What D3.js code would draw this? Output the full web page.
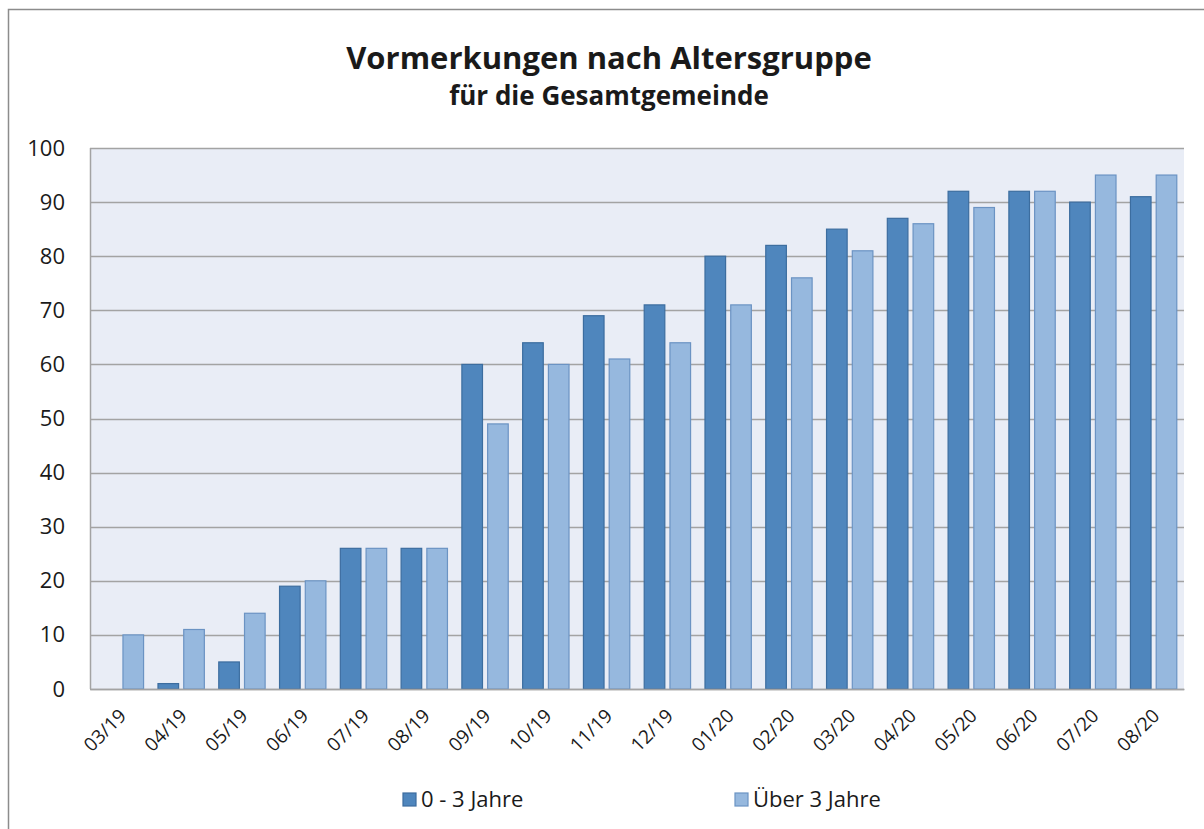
<!DOCTYPE html>
<html>
<head>
<meta charset="utf-8">
<script src="https://cdn.jsdelivr.net/npm/d3@7"></script>
<style>
  body { margin: 0; background: #fff; }
  svg text { font-family: "Open Sans", Lato, sans-serif; fill: #1a1a1a; }
</style>
</head>
<body>
<div id="chart"></div>
<script>
// data
const months = ['03/19','04/19','05/19','06/19','07/19','08/19','09/19','10/19','11/19','12/19',
                '01/20','02/20','03/20','04/20','05/20','06/20','07/20','08/20'];
const young = [0, 1, 5, 19, 26, 26, 60, 64, 69, 71, 80, 82, 85, 87, 92, 92, 90, 91];
const older = [10, 11, 14, 20, 26, 26, 49, 60, 61, 64, 71, 76, 81, 86, 89, 92, 95, 95];
const seriesNames = ['0 - 3 Jahre', 'Über 3 Jahre'];
const yTicks = [0, 10, 20, 30, 40, 50, 60, 70, 80, 90, 100];

const width = 1204, height = 829;
const plot = {left: 90, right: 1184, top: 148, bottom: 689};
const colors = ['#4f86bd', '#96b8de'];
const strokes = ['#3c6d9f', '#6b93c3'];
const font = '"Open Sans", Lato, sans-serif';

const svg = d3.select('#chart')
  .append('svg')
    .attr('width', width)
    .attr('height', height);

// outer chart frame
svg.append('rect')
    .attr('x', 8.5).attr('y', 9.5)
    .attr('width', width + 10).attr('height', height + 10)
    .attr('fill', 'none')
    .attr('stroke', '#8c8c8c')
    .attr('stroke-width', 1.5);

// titles
svg.append('text')
    .attr('x', 609).attr('y', 69)
    .attr('text-anchor', 'middle')
    .attr('font-size', 31).attr('font-weight', 'bold')
    .text('Vormerkungen nach Altersgruppe');
svg.append('text')
    .attr('x', 609).attr('y', 105)
    .attr('text-anchor', 'middle')
    .attr('font-size', 26).attr('font-weight', 'bold')
    .text('für die Gesamtgemeinde');

const x = d3.scaleBand()
    .domain(months)
    .range([plot.left, plot.right]);

const inner = d3.scaleBand()
    .domain([0, 1])
    .range([0, x.bandwidth()])
    .paddingInner(0.2)
    .paddingOuter(0.28);

const y = d3.scaleLinear()
    .domain([0, 100])
    .range([plot.bottom, plot.top]);

// plot background
svg.append('rect')
    .attr('x', plot.left).attr('y', plot.top)
    .attr('width', plot.right - plot.left)
    .attr('height', plot.bottom - plot.top)
    .attr('fill', '#e9edf6');

// grid lines
svg.append('g')
  .selectAll('line')
  .data(yTicks)
  .join('line')
    .attr('x1', plot.left).attr('x2', plot.right)
    .attr('y1', d => Math.round(y(d)) + 0.5)
    .attr('y2', d => Math.round(y(d)) + 0.5)
    .attr('stroke', '#a3a3a3')
    .attr('stroke-width', 1.5);

// left edge of plot
svg.append('line')
    .attr('x1', plot.left + 0.5).attr('x2', plot.left + 0.5)
    .attr('y1', plot.top).attr('y2', plot.bottom)
    .attr('stroke', '#a3a3a3')
    .attr('stroke-width', 1.5);

// bars
const series = [young, older];
series.forEach((vals, s) => {
  svg.append('g')
    .selectAll('rect')
    .data(vals)
    .join('rect')
      .attr('x', (d, i) => x(months[i]) + inner(s))
      .attr('y', d => y(d))
      .attr('width', inner.bandwidth())
      .attr('height', d => y(0) - y(d))
      .attr('fill', colors[s])
      .attr('stroke', strokes[s])
      .attr('stroke-width', 1.2);
});

// y axis labels
const yAxis = svg.append('g')
    .attr('transform', `translate(${plot.left - 10},0)`)
    .call(d3.axisLeft(y).tickValues(yTicks).tickSize(0).tickPadding(15));
yAxis.select('.domain').remove();
yAxis.selectAll('text')
    .attr('font-size', 22)
    .style('font-family', font)
    .attr('fill', '#1a1a1a');

// x axis labels
const xAxis = svg.append('g')
    .attr('transform', `translate(0,${plot.bottom})`)
    .call(d3.axisBottom(x).tickSize(0).tickPadding(0));
xAxis.select('.domain')
    .attr('stroke', '#a3a3a3')
    .attr('stroke-width', 1.5);
xAxis.selectAll('text')
    .attr('font-size', 19)
    .style('font-family', font)
    .attr('fill', '#1a1a1a')
    .attr('text-anchor', 'end')
    .attr('dy', 0)
    .attr('transform', 'translate(7,28) rotate(-45)');

// legend
const legendX = [403, 735];
const legend = svg.append('g')
  .selectAll('g')
  .data(seriesNames)
  .join('g')
    .attr('transform', (d, i) => `translate(${legendX[i]},793)`);
legend.append('rect')
    .attr('width', 13).attr('height', 13)
    .attr('fill', (d, i) => colors[i])
    .attr('stroke', (d, i) => strokes[i])
    .attr('stroke-width', 1.2);
legend.append('text')
    .attr('x', 18).attr('y', 14)
    .attr('font-size', 22)
    .text(d => d);
</script>
</body>
</html>
